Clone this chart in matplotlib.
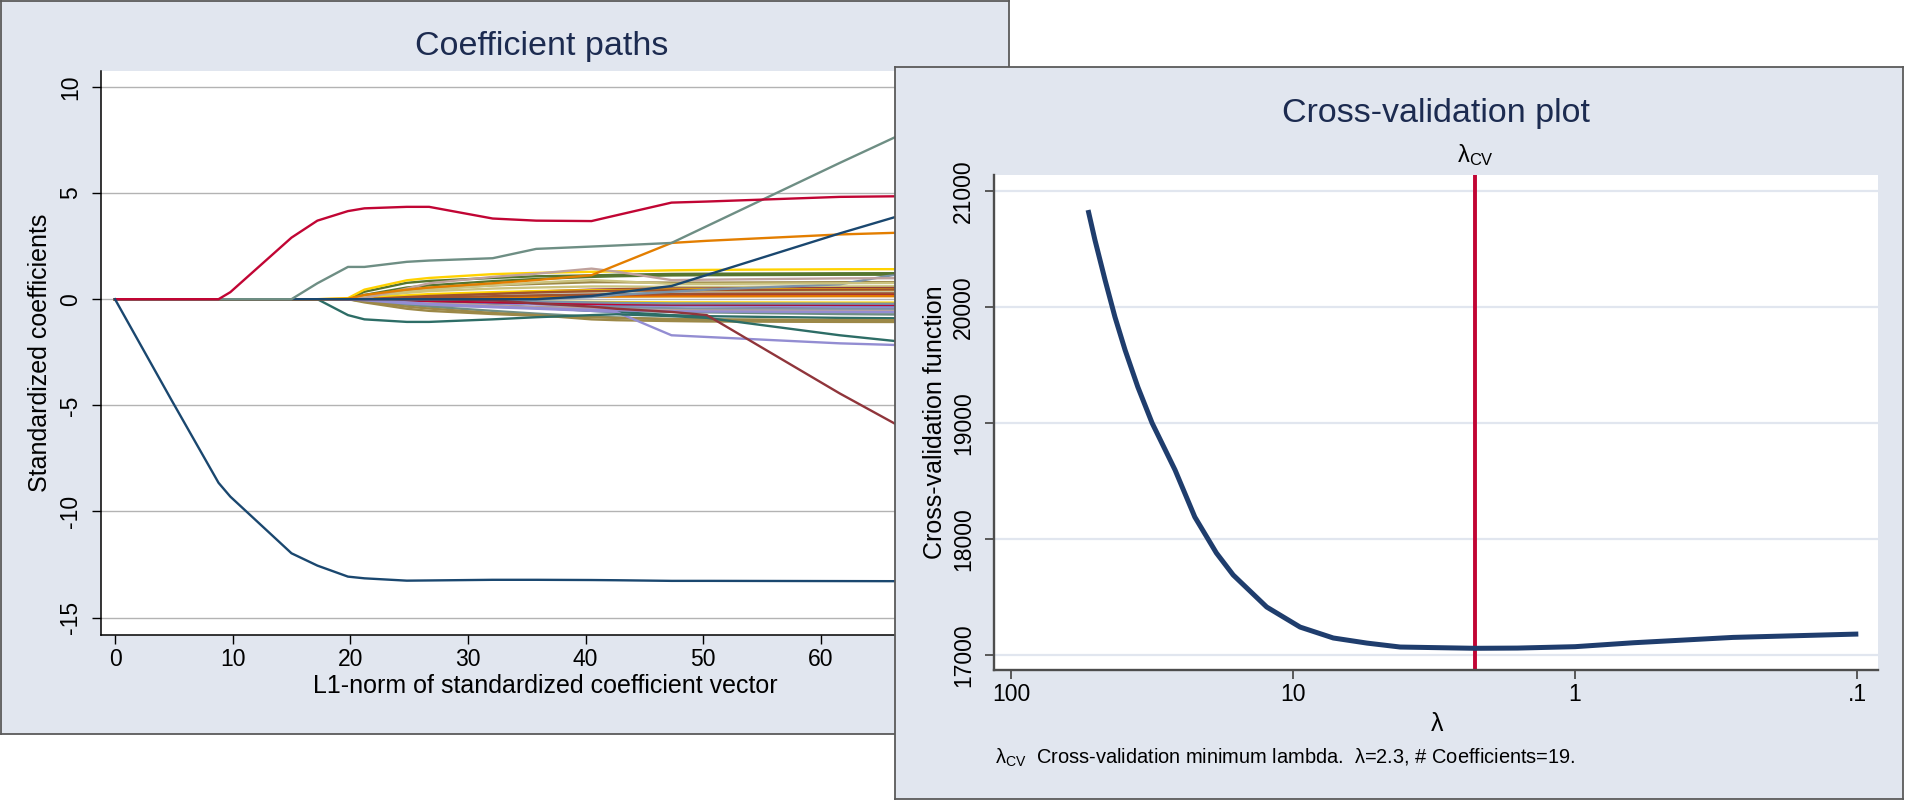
import matplotlib
matplotlib.use("Agg")
import matplotlib.pyplot as plt
from matplotlib.ticker import FixedLocator, NullLocator
from matplotlib.transforms import blended_transform_factory

plt.rcParams['font.family'] = ['Liberation Sans', 'DejaVu Sans']
plt.rcParams['mathtext.fontset'] = 'custom'
plt.rcParams['mathtext.rm'] = 'Liberation Sans'
plt.rcParams['mathtext.it'] = 'Liberation Sans:italic'
plt.rcParams['axes.unicode_minus'] = False

# ---------------- data: coefficient paths (left panel) ----------------
l1_knots = [0, 4.8, 8.8, 9.8, 15.0, 17.2, 19.8, 21.2, 24.8, 26.7, 32.1, 35.8, 40.5, 42.6, 47.3, 50.3, 61.6, 72.0]

navy_1      = [0, -4.75, -8.65, -9.3, -11.97, -12.55, -13.07, -13.15, -13.26, -13.25, -13.22, -13.22, -13.23, -13.24, -13.27, -13.27, -13.28, -13.29]
cranberry_1 = [0, 0, 0, 0.33, 2.9, 3.7, 4.15, 4.28, 4.35, 4.35, 3.8, 3.7, 3.68, 3.95, 4.55, 4.6, 4.82, 4.88]
teal_1      = [0, 0, 0, 0, 0, 0.75, 1.52, 1.52, 1.76, 1.82, 1.93, 2.37, 2.48, 2.53, 2.65, 3.44, 6.42, 9.1]
dkorange_1  = [0, 0, 0, 0, 0, 0, 0.02, 0.2, 0.45, 0.55, 0.75, 0.9, 1.13, 1.6, 2.65, 2.75, 3.05, 3.22]
emerald_1   = [0, 0, 0, 0, 0, 0, -0.75, -0.95, -1.07, -1.07, -0.95, -0.85, -0.75, -0.71, -0.8, -0.88, -1.7, -2.3]
lavender_1  = [0, 0, 0, 0, 0, 0, 0, -0.05, -0.2, -0.25, -0.38, -0.45, -0.55, -0.6, -1.7, -1.78, -2.08, -2.25]
maroon_1    = [0, 0, 0, 0, 0, 0, 0, 0, 0, 0, -0.05, -0.2, -0.35, -0.45, -0.6, -0.75, -4.44, -7.6]
navy_2      = [0, 0, 0, 0, 0, 0, 0, 0, 0, 0, 0, 0, 0.15, 0.3, 0.62, 1.14, 3.1, 4.8]
gold_1      = [0, 0, 0, 0, 0, 0, 0.05, 0.45, 0.89, 1.0, 1.18, 1.24, 1.29, 1.31, 1.36, 1.38, 1.41, 1.42]
forest_1    = [0, 0, 0, 0, 0, 0, 0, 0.35, 0.77, 0.86, 1.0, 1.08, 1.12, 1.15, 1.19, 1.2, 1.22, 1.23]
erose_1     = [0, 0, 0, 0, 0, 0, 0, 0.05, 0.5, 0.75, 1.05, 1.2, 1.44, 1.3, 0.9, 0.92, 0.98, 1.0]
khaki_1     = [0, 0, 0, 0, 0, 0, 0, 0.1, 0.35, 0.45, 0.65, 0.78, 0.9, 0.85, 0.72, 0.72, 0.75, 0.78]
brown_1     = [0, 0, 0, 0, 0, 0, 0, -0.1, -0.35, -0.44, -0.65, -0.75, -0.95, -0.99, -1.03, -1.05, -1.07, -1.08]
emidblue_1  = [0, 0, 0, 0, 0, 0, 0, 0, 0, 0, 0, 0, 0.1, 0.2, 0.35, 0.45, 0.7, 1.7]
sienna_1    = [0, 0, 0, 0, 0, 0, 0, 0, 0.1, 0.15, 0.25, 0.32, 0.38, 0.4, 0.42, 0.43, 0.45, 0.47]

maroon_2    = [0, 0, 0, 0, 0, 0, 0, 0, -0.05, -0.08, -0.15, -0.2, -0.25, -0.27, -0.3, -0.32, -0.4, -0.45]
forest_2    = [0, 0, 0, 0, 0, 0, 0, 0, 0, -0.05, -0.15, -0.22, -0.3, -0.35, -0.45, -0.5, -0.6, -0.65]
dkorange_2  = [0, 0, 0, 0, 0, 0, 0, 0.05, 0.12, 0.15, 0.2, 0.22, 0.25, 0.26, 0.28, 0.3, 0.35, 0.38]
teal_2      = [0, 0, 0, 0, 0, 0, 0, -0.03, -0.12, -0.18, -0.3, -0.38, -0.48, -0.52, -0.6, -0.62, -0.7, -0.75]
cranberry_2 = [0, 0, 0, 0, 0, 0, 0, 0.04, 0.1, 0.12, 0.15, 0.17, 0.18, 0.18, 0.19, 0.19, 0.2, 0.21]
lavender_2  = [0, 0, 0, 0, 0, 0, 0, -0.08, -0.15, -0.18, -0.22, -0.25, -0.28, -0.3, -0.32, -0.33, -0.36, -0.38]
khaki_2     = [0, 0, 0, 0, 0, 0, 0, 0.08, 0.3, 0.38, 0.5, 0.55, 0.6, 0.6, 0.58, 0.58, 0.6, 0.62]
sienna_2    = [0, 0, 0, 0, 0, 0, 0, 0, -0.05, -0.08, -0.12, -0.15, -0.18, -0.19, -0.2, -0.2, -0.22, -0.23]
emidblue_2  = [0, 0, 0, 0, 0, 0, 0, -0.1, -0.25, -0.3, -0.35, -0.38, -0.4, -0.41, -0.43, -0.44, -0.46, -0.47]
emerald_2   = [0, 0, 0, 0, 0, 0, 0, 0, -0.1, -0.15, -0.3, -0.4, -0.55, -0.6, -0.75, -0.8, -0.88, -0.92]
brown_2     = [0, 0, 0, 0, 0, 0, 0, 0.1, 0.4, 0.5, 0.65, 0.72, 0.8, 0.8, 0.78, 0.78, 0.8, 0.81]
erose_2     = [0, 0, 0, 0, 0, 0, 0, 0, -0.1, -0.15, -0.3, -0.38, -0.45, -0.48, -0.52, -0.53, -0.55, -0.56]
gold_2      = [0, 0, 0, 0, 0, 0, 0, -0.02, -0.06, -0.08, -0.1, -0.12, -0.13, -0.14, -0.15, -0.15, -0.16, -0.16]
bluishgray_2 = [0, 0, 0, 0, 0, 0, 0, 0.02, 0.1, 0.14, 0.2, 0.24, 0.28, 0.29, 0.3, 0.31, 0.32, 0.33]
navy_3      = [0, 0, 0, 0, 0, 0, 0, 0, -0.05, -0.08, -0.14, -0.18, -0.22, -0.23, -0.25, -0.25, -0.27, -0.28]
maroon_3    = [0, 0, 0, 0, 0, 0, 0, 0, 0.08, 0.14, 0.28, 0.36, 0.45, 0.47, 0.5, 0.5, 0.52, 0.53]
forest_3    = [0, 0, 0, 0, 0, 0, 0, 0.2, 0.55, 0.65, 0.85, 0.95, 1.05, 1.08, 1.12, 1.13, 1.15, 1.16]
dkorange_3  = [0, 0, 0, 0, 0, 0, 0, 0, 0.03, 0.05, 0.08, 0.1, 0.12, 0.12, 0.13, 0.13, 0.14, 0.14]
teal_3      = [0, 0, 0, 0, 0, 0, 0, -0.05, -0.25, -0.35, -0.55, -0.68, -0.82, -0.86, -0.95, -0.97, -1.0, -1.02]
cranberry_3 = [0, 0, 0, 0, 0, 0, 0, 0, -0.05, -0.08, -0.14, -0.18, -0.22, -0.23, -0.25, -0.25, -0.26, -0.27]
lavender_3  = [0, 0, 0, 0, 0, 0, 0, 0, -0.15, -0.22, -0.35, -0.42, -0.5, -0.52, -0.57, -0.58, -0.6, -0.62]
khaki_3     = [0, 0, 0, 0, 0, 0, 0, 0.03, 0.15, 0.2, 0.28, 0.32, 0.36, 0.37, 0.39, 0.4, 0.41, 0.42]
sienna_3    = [0, 0, 0, 0, 0, 0, 0, 0, 0.05, 0.08, 0.14, 0.18, 0.22, 0.23, 0.25, 0.26, 0.27, 0.28]
emidblue_3  = [0, 0, 0, 0, 0, 0, 0, 0, 0, 0, -0.05, -0.1, -0.15, -0.17, -0.2, -0.2, -0.21, -0.22]
brown_3     = [0, 0, 0, 0, 0, 0, 0, -0.15, -0.45, -0.55, -0.7, -0.78, -0.85, -0.88, -0.93, -0.95, -0.98, -1.0]
gold_3      = [0, 0, 0, 0, 0, 0, 0, 0.05, 0.18, 0.24, 0.33, 0.38, 0.42, 0.43, 0.45, 0.46, 0.47, 0.48]

coef_xticks = [0, 10, 20, 30, 40, 50, 60, 70]
coef_yticks = [-15, -10, -5, 0, 5, 10]

# ---------------- data: cross-validation (right panel) ----------------
cv_lambda = [53.3, 50.4, 46.4, 42.8, 39.4, 35.5, 31.6, 26.2, 22.3, 18.7, 16.3, 12.4, 9.44, 7.2, 5.47, 4.17, 2.26, 1.6, 1.0, 0.62, 0.275, 0.099]
cv_value  = [20836, 20578, 20233, 19914, 19629, 19310, 19000, 18595, 18190, 17880, 17690, 17414, 17241, 17147, 17103, 17069, 17058, 17060, 17072, 17106, 17152, 17181]
lambda_cv = 2.26
cv_xticks = [100, 10, 1, 0.1]
cv_xticklabels = ["100", "10", "1", ".1"]
cv_yticks = [17000, 18000, 19000, 20000, 21000]

# ---------------- styling ----------------
C = dict(navy='#1a476f', maroon='#90353b', forest='#55752f', dkorange='#e37e00',
         teal='#6e8e84', cranberry='#c10534', lavender='#938dd2', khaki='#cac27e',
         sienna='#a0522d', emidblue='#7b92a8', emerald='#2d6d66', brown='#9c8847',
         erose='#bfa19c', gold='#ffd200', bluishgray='#c9d8de')

bundle = [(maroon_2, 'maroon'), (forest_2, 'forest'), (dkorange_2, 'dkorange'), (teal_2, 'teal'),
          (cranberry_2, 'cranberry'), (lavender_2, 'lavender'), (khaki_2, 'khaki'), (sienna_2, 'sienna'),
          (emidblue_2, 'emidblue'), (emerald_2, 'emerald'), (brown_2, 'brown'), (erose_2, 'erose'),
          (gold_2, 'gold'), (bluishgray_2, 'bluishgray'), (navy_3, 'navy'), (maroon_3, 'maroon'),
          (forest_3, 'forest'), (dkorange_3, 'dkorange'), (teal_3, 'teal'), (cranberry_3, 'cranberry'),
          (lavender_3, 'lavender'), (khaki_3, 'khaki'), (sienna_3, 'sienna'), (emidblue_3, 'emidblue'),
          (brown_3, 'brown'), (gold_3, 'gold'),
          (sienna_1, 'sienna'), (emidblue_1, 'emidblue'), (khaki_1, 'khaki'), (brown_1, 'brown'),
          (forest_1, 'forest'), (gold_1, 'gold'), (erose_1, 'erose'),
          (lavender_1, 'lavender'), (emerald_1, 'emerald'), (maroon_1, 'maroon'), (dkorange_1, 'dkorange'),
          (navy_2, 'navy'), (teal_1, 'teal'), (cranberry_1, 'cranberry'), (navy_1, 'navy')]

W, H = 1905, 801
BG = '#e1e6ef'
TITLE_C = '#1c2b50'
FS_TITLE = 24.5
FS_AXT = 18
FS_TICK = 16.5
FS_NOTE = 14.4

def box(x0, y0, x1, y1):
    return [x0 / W, 1 - y1 / H, (x1 - x0) / W, (y1 - y0) / H]

def fx(px):
    return px / W

def fy(py):
    return 1 - py / H

fig = plt.figure(figsize=(W / 100, H / 100), dpi=100)
fig.patch.set_facecolor('white')

def panel(rect, z):
    a = fig.add_axes(rect)
    a.set_facecolor(BG)
    a.set_xticks([]); a.set_yticks([])
    for s in a.spines.values():
        s.set_color('#5a5a5a'); s.set_linewidth(1.3)
    a.set_zorder(z)
    return a

# ---------- left panel ----------
bgL = panel(box(1, 1, 1009, 734), 0)
axL = fig.add_axes(box(101, 71, 988, 635))
axL.set_zorder(1)
axL.set_facecolor('white')
for xs_vals, cname in bundle:
    axL.plot(l1_knots, xs_vals, color=C[cname], lw=1.7, solid_joinstyle='round')
axL.set_xlim(-1.19, 74.2)
axL.set_ylim(-15.82, 10.75)
axL.set_xticks(coef_xticks)
axL.set_yticks(coef_yticks)
axL.yaxis.grid(True, color='#b3b3b3', lw=1.0)
axL.set_axisbelow(True)
for s in ['top', 'right']:
    axL.spines[s].set_visible(False)
for s in ['left', 'bottom']:
    axL.spines[s].set_color('black'); axL.spines[s].set_linewidth(1.1)
axL.tick_params(axis='both', length=6.5, width=1.0, color='black', labelsize=FS_TICK)
axL.tick_params(axis='x', pad=3)
axL.tick_params(axis='y', pad=7, labelrotation=90)
for lb in axL.get_yticklabels():
    lb.set_va('center')

bgL.text(fx(542), fy(55), 'Coefficient paths', transform=fig.transFigure, ha='center',
         va='baseline', fontsize=FS_TITLE, color=TITLE_C)
bgL.text(fx(40), fy(353), 'Standardized coefficients', transform=fig.transFigure, ha='center',
         va='center', rotation=90, fontsize=FS_AXT, color='black')
bgL.text(fx(545), fy(686), 'L1-norm of standardized coefficient vector', transform=fig.transFigure,
         ha='center', va='center', fontsize=FS_AXT, color='black')

# ---------- right panel ----------
bgR = panel(box(895, 67, 1903, 799), 2)
axR = fig.add_axes(box(994, 175, 1878, 670))
axR.set_zorder(3)
axR.set_facecolor('white')
axR.set_xscale('log')
axR.plot(cv_lambda, cv_value, color='#1f3d6d', lw=3.6, solid_capstyle='butt', solid_joinstyle='round', zorder=3)
axR.axvline(lambda_cv, color='#c10534', lw=2.8, zorder=2)
axR.set_xlim(114.9, 0.0843)
axR.set_ylim(16871, 21138)
axR.xaxis.set_major_locator(FixedLocator(cv_xticks))
axR.xaxis.set_minor_locator(NullLocator())
axR.set_xticklabels(cv_xticklabels)
axR.set_yticks(cv_yticks)
axR.yaxis.grid(True, color='#e1e6ef', lw=1.6)
axR.set_axisbelow(True)
for s in ['top', 'right']:
    axR.spines[s].set_visible(False)
for s in ['left', 'bottom']:
    axR.spines[s].set_color('#4d4d4d'); axR.spines[s].set_linewidth(1.7)
axR.tick_params(axis='both', length=6.5, width=1.3, color='#4d4d4d', labelsize=FS_TICK)
axR.tick_params(axis='x', pad=3)
axR.tick_params(axis='y', pad=7, labelrotation=90)
for lb in axR.get_yticklabels():
    lb.set_va('center')

bgR.text(fx(1436), fy(122), 'Cross-validation plot', transform=fig.transFigure, ha='center',
         va='baseline', fontsize=FS_TITLE, color=TITLE_C)
bgR.text(fx(935), fy(422), 'Cross-validation function', transform=fig.transFigure, ha='center',
         va='center', rotation=90, fontsize=FS_AXT, color='black')
bgR.text(fx(1437), fy(724), 'λ', transform=fig.transFigure, ha='center', va='center',
         fontsize=FS_AXT, color='black')
axR.text(lambda_cv, fy(162), r'$\mathrm{λ}_{\mathrm{CV}}$',
         transform=blended_transform_factory(axR.transData, fig.transFigure),
         ha='center', va='baseline', fontsize=17, color='black', clip_on=False)
bgR.text(fx(995), fy(764), r'$\mathrm{λ}_{\mathrm{CV}}$  Cross-validation minimum lambda.  λ=2.3, # Coefficients=19.',
         transform=fig.transFigure, ha='left', va='baseline', fontsize=FS_NOTE, color='black')

fig.savefig('out.png', dpi=100, facecolor='white')
